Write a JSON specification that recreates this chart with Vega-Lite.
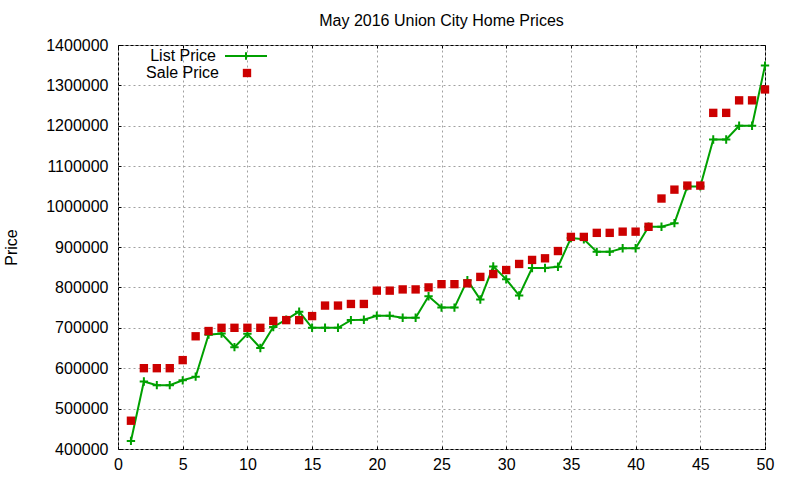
{
  "$schema": "https://vega.github.io/schema/vega-lite/v6.json",
  "autosize": "none",
  "width": 647,
  "height": 404,
  "padding": {"left": 118, "top": 45, "right": 35, "bottom": 31},
  "background": "white",
  "title": {
    "text": "May 2016 Union City Home Prices",
    "fontSize": 16,
    "font": "Liberation Sans",
    "fontWeight": "normal",
    "color": "black",
    "anchor": "middle",
    "frame": "group",
    "offset": 8
  },
  "data": {
    "values": [
      {"n": 1, "List Price": 420000, "Sale Price": 470000},
      {"n": 2, "List Price": 567000, "Sale Price": 600000},
      {"n": 3, "List Price": 558000, "Sale Price": 600000},
      {"n": 4, "List Price": 558000, "Sale Price": 600000},
      {"n": 5, "List Price": 570000, "Sale Price": 620000},
      {"n": 6, "List Price": 579000, "Sale Price": 679000},
      {"n": 7, "List Price": 683000, "Sale Price": 692000},
      {"n": 8, "List Price": 686000, "Sale Price": 700000},
      {"n": 9, "List Price": 652000, "Sale Price": 700000},
      {"n": 10, "List Price": 685000, "Sale Price": 700000},
      {"n": 11, "List Price": 650000, "Sale Price": 700000},
      {"n": 12, "List Price": 702000, "Sale Price": 717000},
      {"n": 13, "List Price": 720000, "Sale Price": 719000},
      {"n": 14, "List Price": 740000, "Sale Price": 719000},
      {"n": 15, "List Price": 700000, "Sale Price": 729000},
      {"n": 16, "List Price": 700000, "Sale Price": 755000},
      {"n": 17, "List Price": 700000, "Sale Price": 755000},
      {"n": 18, "List Price": 719000, "Sale Price": 759000},
      {"n": 19, "List Price": 720000, "Sale Price": 759000},
      {"n": 20, "List Price": 730000, "Sale Price": 792000},
      {"n": 21, "List Price": 730000, "Sale Price": 792000},
      {"n": 22, "List Price": 725000, "Sale Price": 795000},
      {"n": 23, "List Price": 725000, "Sale Price": 795000},
      {"n": 24, "List Price": 778000, "Sale Price": 800000},
      {"n": 25, "List Price": 750000, "Sale Price": 808000},
      {"n": 26, "List Price": 750000, "Sale Price": 808000},
      {"n": 27, "List Price": 818000, "Sale Price": 810000},
      {"n": 28, "List Price": 770000, "Sale Price": 826000},
      {"n": 29, "List Price": 852000, "Sale Price": 833000},
      {"n": 30, "List Price": 820000, "Sale Price": 843000},
      {"n": 31, "List Price": 780000, "Sale Price": 858000},
      {"n": 32, "List Price": 848000, "Sale Price": 868000},
      {"n": 33, "List Price": 848000, "Sale Price": 872000},
      {"n": 34, "List Price": 851000, "Sale Price": 890000},
      {"n": 35, "List Price": 922000, "Sale Price": 925000},
      {"n": 36, "List Price": 919000, "Sale Price": 925000},
      {"n": 37, "List Price": 888000, "Sale Price": 935000},
      {"n": 38, "List Price": 888000, "Sale Price": 935000},
      {"n": 39, "List Price": 897000, "Sale Price": 938000},
      {"n": 40, "List Price": 897000, "Sale Price": 938000},
      {"n": 41, "List Price": 950000, "Sale Price": 950000},
      {"n": 42, "List Price": 950000, "Sale Price": 1020000},
      {"n": 43, "List Price": 959000, "Sale Price": 1042000},
      {"n": 44, "List Price": 1050000, "Sale Price": 1052000},
      {"n": 45, "List Price": 1050000, "Sale Price": 1052000},
      {"n": 46, "List Price": 1166000, "Sale Price": 1232000},
      {"n": 47, "List Price": 1166000, "Sale Price": 1232000},
      {"n": 48, "List Price": 1200000, "Sale Price": 1263000},
      {"n": 49, "List Price": 1200000, "Sale Price": 1263000},
      {"n": 50, "List Price": 1349000, "Sale Price": 1290000}
    ]
  },
  "transform": [
    {"fold": ["List Price", "Sale Price"], "as": ["series", "price"]}
  ],
  "layer": [
    {
      "transform": [{"filter": "datum.series === 'List Price'"}],
      "mark": {"type": "line", "strokeWidth": 2},
      "encoding": {
        "x": {
          "field": "n",
          "type": "quantitative",
          "scale": {"domain": [0, 50], "nice": false, "zero": false},
          "axis": {
            "values": [0, 5, 10, 15, 20, 25, 30, 35, 40, 45, 50],
            "format": "d",
            "title": null,
            "grid": true,
            "tickSize": -3,
            "labelPadding": 10,
            "labelFlush": false,
            "labelOverlap": false
          }
        },
        "y": {
          "field": "price",
          "type": "quantitative",
          "scale": {"domain": [400000, 1400000], "nice": false, "zero": false},
          "axis": {
            "values": [400000, 500000, 600000, 700000, 800000, 900000, 1000000, 1100000, 1200000, 1300000, 1400000],
            "format": "d",
            "title": "Price",
            "grid": true,
            "tickSize": -3,
            "labelPadding": 13,
            "labelFlush": false,
            "labelOverlap": false,
            "titleX": -107,
            "titleY": 202,
            "titleBaseline": "middle",
            "titleAlign": "center"
          }
        },
        "stroke": {
          "field": "series",
          "type": "nominal",
          "scale": {"domain": ["List Price"], "range": ["#00a000"]},
          "legend": {
            "orient": "none",
            "legendX": 120,
            "legendY": 3,
            "title": null,
            "labelAlign": "right",
            "labelOffset": -38,
            "labelFontSize": 16,
            "labelFont": "Liberation Sans",
            "labelColor": "black",
            "padding": 0,
            "symbolSize": 100,
            "symbolType": "M-4.2,0L4.2,0M0,-0.75L0,0.75",
            "symbolStrokeWidth": 2,
            "symbolFillColor": "transparent",
            "symbolOpacity": 1
          }
        }
      }
    },
    {
      "transform": [{"filter": "datum.series === 'List Price'"}],
      "mark": {
        "type": "point",
        "shape": "M-1,0L1,0M0,-1L0,1",
        "filled": false,
        "color": "#00a000",
        "strokeWidth": 2,
        "size": 70,
        "opacity": 1
      },
      "encoding": {
        "x": {
          "field": "n",
          "type": "quantitative",
          "axis": {
            "orient": "top",
            "values": [0, 5, 10, 15, 20, 25, 30, 35, 40, 45, 50],
            "labels": false,
            "grid": false,
            "title": null,
            "tickSize": -3
          }
        },
        "y": {
          "field": "price",
          "type": "quantitative",
          "axis": {
            "orient": "right",
            "values": [400000, 500000, 600000, 700000, 800000, 900000, 1000000, 1100000, 1200000, 1300000, 1400000],
            "labels": false,
            "grid": false,
            "title": null,
            "tickSize": -3
          }
        }
      }
    },
    {
      "transform": [{"filter": "datum.series === 'Sale Price'"}],
      "mark": {"type": "square", "filled": true, "size": 70, "opacity": 1},
      "encoding": {
        "x": {"field": "n", "type": "quantitative", "axis": null},
        "y": {"field": "price", "type": "quantitative", "axis": null},
        "fill": {
          "field": "series",
          "type": "nominal",
          "scale": {"domain": ["Sale Price"], "range": ["#cc0000"]},
          "legend": {
            "orient": "none",
            "legendX": 121,
            "legendY": 20,
            "title": null,
            "labelAlign": "right",
            "labelOffset": -36,
            "labelFontSize": 16,
            "labelFont": "Liberation Sans",
            "labelColor": "black",
            "padding": 0,
            "symbolSize": 70,
            "symbolType": "square",
            "symbolOpacity": 1
          }
        }
      }
    }
  ],
  "resolve": {"axis": {"x": "independent", "y": "independent"}},
  "config": {
    "view": {"stroke": "black", "strokeWidth": 1},
    "axis": {
      "domain": false,
      "labelFont": "Liberation Sans",
      "labelFontSize": 16,
      "labelColor": "black",
      "tickColor": "black",
      "tickWidth": 1,
      "gridColor": "#a0a0a0",
      "gridDash": [2, 3],
      "gridWidth": 1,
      "gridOpacity": 1,
      "titleFont": "Liberation Sans",
      "titleFontSize": 16,
      "titleFontWeight": "normal",
      "titleColor": "black"
    }
  }
}
